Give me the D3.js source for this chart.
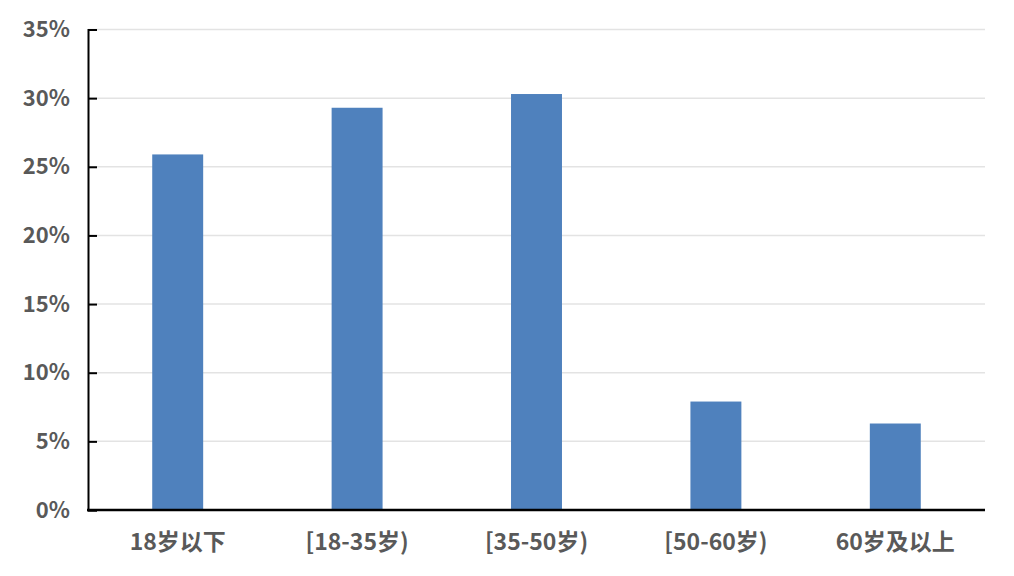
<!DOCTYPE html>
<html>
<head>
<meta charset="utf-8">
<script src="https://cdn.jsdelivr.net/npm/d3@7"></script>
<style>
  body { margin: 0; background: #fff; }
  svg text { font-family: "Noto Sans CJK SC", "Noto Sans", sans-serif; font-weight: bold; fill: #595959; }
</style>
</head>
<body>
<svg id="chart" width="1014" height="576"></svg>
<script>
// age groups and share of respondents
var categories = ["18岁以下", "[18-35岁)", "[35-50岁)", "[50-60岁)", "60岁及以上"]
var values = [0.259, 0.293, 0.303, 0.079, 0.063]
var yTicks = [0, 0.05, 0.10, 0.15, 0.20, 0.25, 0.30, 0.35]

var margin = { top: 29.5, right: 29, bottom: 66, left: 88 }
var width = 1014, height = 576

var svg = d3.select("#chart")

var x = d3.scaleBand()
  .domain(categories)
  .range([margin.left, width - margin.right])
  .paddingInner(0.716)
  .paddingOuter(0.358)

var y = d3.scaleLinear()
  .domain([0, 0.35])
  .range([height - margin.bottom, margin.top])

// gridlines
svg.append("g")
  .selectAll("line")
  .data(yTicks.slice(1))
  .enter()
  .append("line")
    .attr("x1", margin.left)
    .attr("x2", width - margin.right)
    .attr("y1", function (d) { return y(d) })
    .attr("y2", function (d) { return y(d) })
    .attr("stroke", "#e3e3e3")
    .attr("stroke-width", 1.5)

// bars
svg.append("g")
  .selectAll("rect")
  .data(values)
  .enter()
  .append("rect")
    .attr("x", function (d, i) { return x(categories[i]) })
    .attr("y", function (d) { return y(d) })
    .attr("width", x.bandwidth())
    .attr("height", function (d) { return y(0) - y(d) })
    .attr("fill", "#4f81bd")

// y axis, ticks pointing inward
var yAxis = svg.append("g")
  .attr("transform", "translate(" + margin.left + ",0)")
  .call(d3.axisRight(y).tickValues(yTicks).tickSize(9).tickFormat(""))
yAxis.select(".domain").attr("stroke", "#000").attr("stroke-width", 2)
yAxis.selectAll(".tick line").attr("stroke", "#000").attr("stroke-width", 2)

svg.append("g")
  .selectAll("text")
  .data(yTicks)
  .enter()
  .append("text")
    .attr("x", 70)
    .attr("y", function (d) { return y(d) })
    .attr("dy", "0.35em")
    .attr("text-anchor", "end")
    .style("font-size", "22px")
    .text(d3.format(".0%"))

// x axis
svg.append("line")
  .attr("x1", margin.left - 1)
  .attr("x2", width - margin.right)
  .attr("y1", y(0))
  .attr("y2", y(0))
  .attr("stroke", "#000")
  .attr("stroke-width", 2.5)

svg.append("g")
  .selectAll("text")
  .data(categories)
  .enter()
  .append("text")
    .attr("x", function (d) { return x(d) + x.bandwidth() / 2 })
    .attr("y", y(0) + 32)
    .attr("dy", "0.35em")
    .attr("text-anchor", "middle")
    .style("font-size", "23px")
    .text(function (d) { return d })
</script>
</body>
</html>
